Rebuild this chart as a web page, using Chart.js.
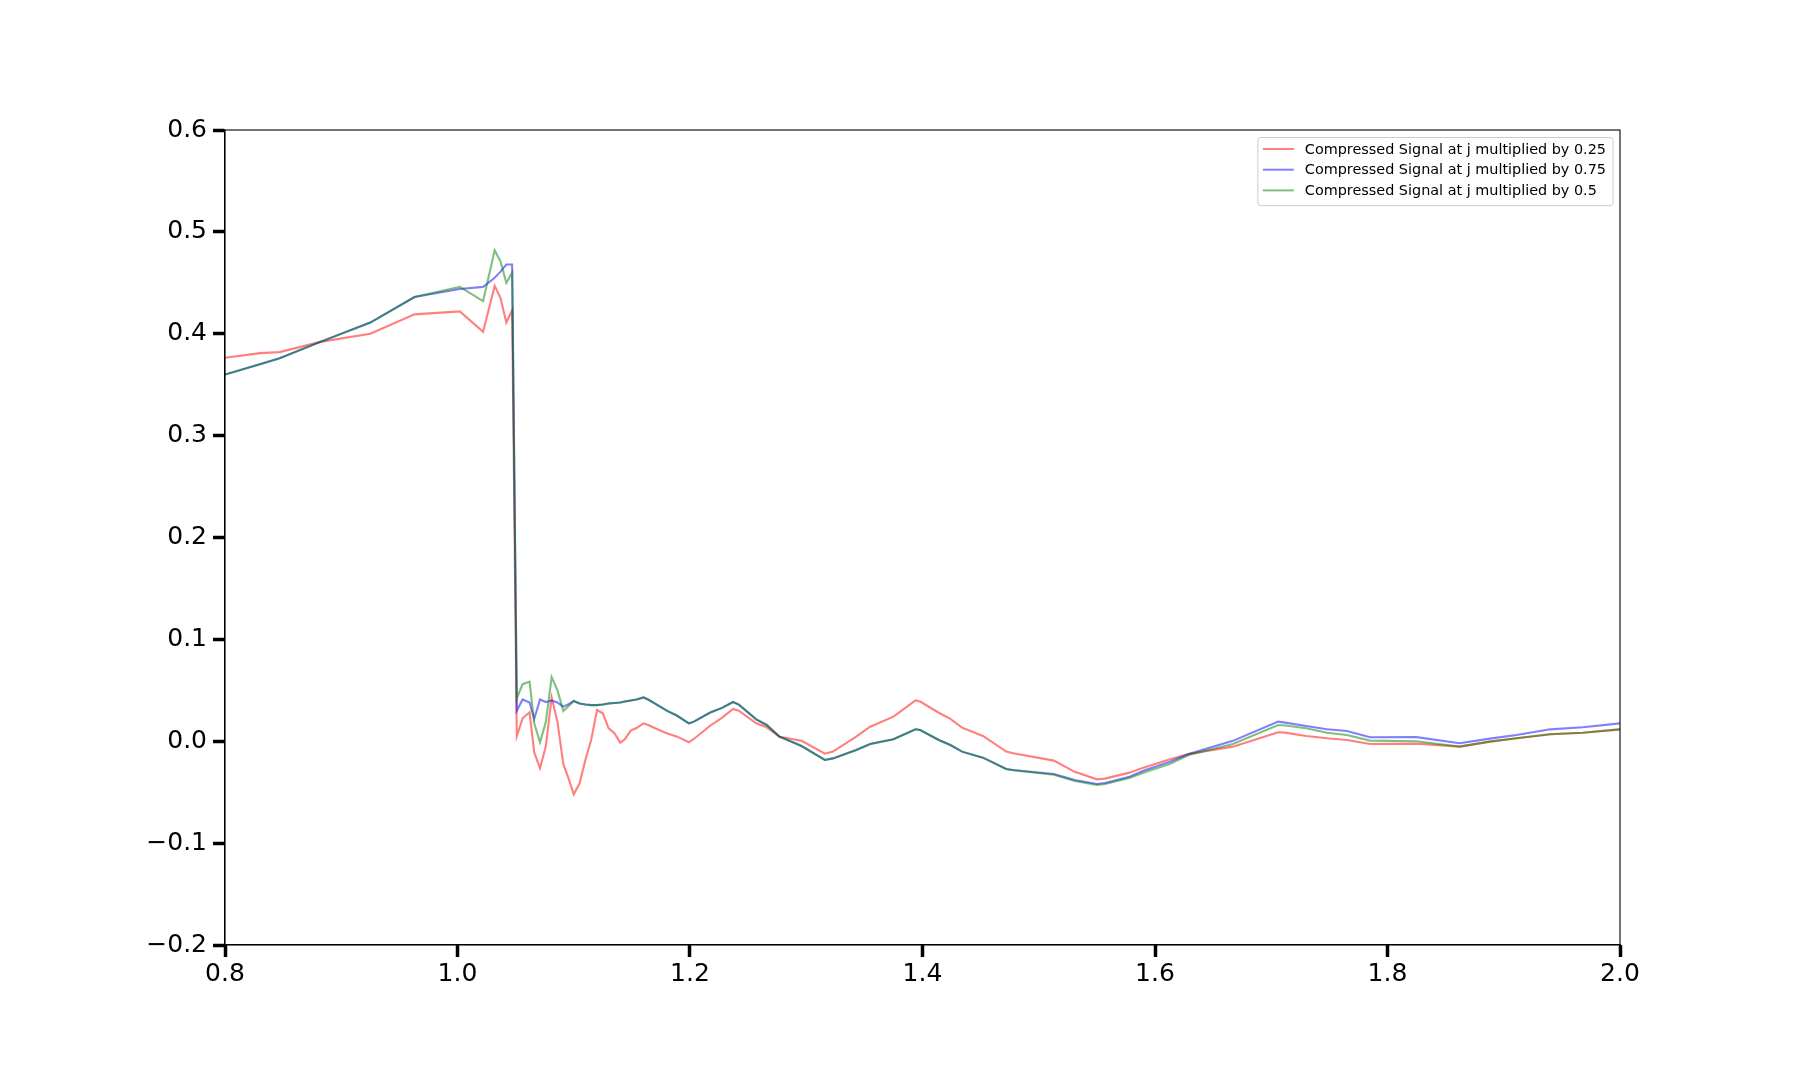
<!DOCTYPE html>
<html>
<head>
<meta charset="utf-8">
<script src="https://cdn.jsdelivr.net/npm/chart.js@4.4.1/dist/chart.umd.min.js"></script>
<style>
html,body{margin:0;padding:0;background:#fff;}
#wrap{width:1800px;height:1080px;}
</style>
</head>
<body>
<div id="wrap"><canvas id="c" width="1800" height="1080"></canvas></div>
<script>
const xs = [0.800,0.830,0.847,0.882,0.925,0.963,1.002,1.022,1.032,1.037,1.042,1.047,
  1.051,1.056,1.062,1.066,1.071,1.076,1.081,1.086,1.091,1.095,1.100,1.105,1.110,1.115,1.120,1.125,1.130,1.135,1.140,1.144,1.149,1.154,1.160,1.164,1.170,1.180,1.189,1.199,1.203,1.217,1.228,1.237,1.242,1.257,1.266,1.277,1.296,
  1.316,1.323,1.343,1.355,1.375,1.394,1.398,1.414,1.424,1.434,1.452,1.472,1.478,1.513,1.531,1.550,1.557,1.578,1.590,1.613,
  1.629,1.667,1.706,1.712,1.730,1.748,1.765,1.785,1.825,1.862,1.888,1.911,1.940,1.968,2.000];

const red = [0.3765,0.381,0.382,0.392,0.400,0.419,0.422,0.402,0.447,0.435,0.411,0.423,
  0.005,0.0225,0.0284,-0.011,-0.0266,-0.0047,0.043,0.019,-0.0223,-0.0348,-0.052,-0.0413,-0.0184,0.0012,0.0307,0.0274,0.0127,0.0078,-0.0014,0.0019,0.0104,0.013,0.0176,0.016,0.0127,0.0078,0.0045,-0.001,0.002,0.015,0.0235,0.0317,0.030,0.0176,0.0137,0.0045,0.0004,
  -0.0122,-0.0102,0.0045,0.0143,0.0241,0.040,0.039,0.028,0.022,0.0133,0.0052,-0.0102,-0.0118,-0.019,-0.030,-0.0374,-0.0367,-0.0308,-0.0259,-0.0177,
  -0.0125,-0.0053,0.0088,0.0085,0.0052,0.0029,0.0012,-0.0027,-0.0023,-0.0053,-0.0004,0.0029,0.0068,0.0084,0.0117];

const blue = [0.360,0.370,0.376,0.392,0.411,0.436,0.444,0.446,0.455,0.461,0.468,0.468,
  0.030,0.041,0.038,0.022,0.041,0.0385,0.040,0.038,0.034,0.036,0.0395,0.037,0.036,0.0355,0.0355,0.036,0.037,0.0375,0.038,0.039,0.040,0.041,0.043,0.041,0.037,0.030,0.025,0.0176,0.019,0.028,0.033,0.0385,0.036,0.0215,0.016,0.0045,-0.0047,
  -0.0184,-0.0168,-0.0086,-0.0027,0.0019,0.0117,0.011,0.0012,-0.0037,-0.0102,-0.0161,-0.0272,-0.0282,-0.0321,-0.038,-0.042,-0.041,-0.0348,-0.029,-0.020,
  -0.0125,0.0004,0.0193,0.0183,0.015,0.0117,0.010,0.0039,0.004,-0.002,0.0026,0.0062,0.0117,0.0137,0.0176];

const green = [0.360,0.370,0.376,0.392,0.411,0.436,0.446,0.432,0.482,0.471,0.450,0.460,
  0.042,0.056,0.0585,0.0176,-0.001,0.019,0.063,0.050,0.0297,0.034,0.0395,0.037,0.036,0.0355,0.0355,0.036,0.037,0.0375,0.038,0.039,0.040,0.041,0.043,0.041,0.037,0.030,0.025,0.0176,0.019,0.028,0.033,0.0385,0.036,0.0215,0.016,0.0045,-0.0047,
  -0.0184,-0.0168,-0.0086,-0.0027,0.0019,0.0117,0.011,0.0012,-0.0037,-0.0102,-0.0161,-0.0272,-0.0285,-0.0328,-0.039,-0.043,-0.042,-0.036,-0.031,-0.022,
  -0.0135,-0.0027,0.016,0.0155,0.0127,0.0084,0.0062,0.0006,0.0,-0.0053,-0.0004,0.0029,0.0068,0.0084,0.0117];

const seriesLabels = ["Compressed Signal at j multiplied by 0.25","Compressed Signal at j multiplied by 0.75","Compressed Signal at j multiplied by 0.5"];
const seriesColors = ["rgba(255,0,0,0.5)","rgba(0,0,255,0.5)","rgba(0,128,0,0.5)"];
const xTicks = [0.8,1.0,1.2,1.4,1.6,1.8,2.0];
const yTicks = [-0.2,-0.1,0.0,0.1,0.2,0.3,0.4,0.5,0.6];

const toPts = ys => xs.map((x,i)=>({x:x,y:ys[i]}));
const fmt = v => { const s = Number(v).toFixed(1); return s.replace('-', '\u2212'); };

const frameAndLegend = {
  id:'frameAndLegend',
  afterDraw(chart){
    const ctx = chart.ctx, a = chart.chartArea;
    ctx.save();
    ctx.strokeStyle = '#000';
    ctx.lineWidth = 1.1;
    ctx.strokeRect(a.left, a.top, a.right-a.left, a.bottom-a.top);
    // legend inside, upper right
    ctx.font = '14.4px "DejaVu Sans"';
    let maxW = 0;
    seriesLabels.forEach(t=>{maxW=Math.max(maxW, ctx.measureText(t).width);});
    const rowH = 20.7, padX = 5, handle = 31, gap = 11;
    const bw = padX + handle + gap + maxW + 7;
    const bh = rowH*3 + 6;
    const bx = a.right - 7 - bw, by = a.top + 7.5;
    ctx.fillStyle = 'rgba(255,255,255,0.8)';
    ctx.strokeStyle = '#cccccc';
    ctx.lineWidth = 1;
    ctx.beginPath();
    if (ctx.roundRect) ctx.roundRect(bx, by, bw, bh, 3); else ctx.rect(bx,by,bw,bh);
    ctx.fill(); ctx.stroke();
    ctx.textBaseline = 'middle';
    seriesLabels.forEach((t,i)=>{
      const cy = by + 11.5 + i*rowH;
      ctx.strokeStyle = seriesColors[i];
      ctx.lineWidth = 2;
      ctx.beginPath(); ctx.moveTo(bx+padX, cy); ctx.lineTo(bx+padX+handle, cy); ctx.stroke();
      ctx.fillStyle = '#000';
      ctx.fillText(t, bx+padX+handle+gap, cy+1);
    });
    ctx.restore();
  }
};

new Chart(document.getElementById('c'), {
  type:'line',
  data:{
    datasets:[red,blue,green].map((ys,i)=>({
      label:seriesLabels[i], data:toPts(ys), borderColor:seriesColors[i],
      backgroundColor:seriesColors[i], borderWidth:2.1, pointRadius:0, tension:0, fill:false,
      order:3-i
    }))
  },
  options:{
    responsive:false, animation:false, devicePixelRatio:1,
    layout:{padding:{left:0,top:130,right:180,bottom:0}},
    plugins:{legend:{display:false}, tooltip:{enabled:false}},
    scales:{
      x:{type:'linear', min:0.8, max:2.0,
        afterBuildTicks(s){ s.ticks = xTicks.map(v=>({value:v})); },
        afterFit(s){ s.height = 135; },
        grid:{drawOnChartArea:false, drawTicks:true, tickLength:12, tickWidth:3.5, tickColor:'#000'},
        border:{display:true, color:'#000', width:1.1},
        ticks:{color:'#000', font:{family:'DejaVu Sans', size:25}, padding:2, maxRotation:0, autoSkip:false, callback:fmt}
      },
      y:{type:'linear', min:-0.2, max:0.6,
        afterBuildTicks(s){ s.ticks = yTicks.map(v=>({value:v})); },
        afterFit(s){ s.width = 225; },
        grid:{drawOnChartArea:false, drawTicks:true, tickLength:12, tickWidth:3.5, tickColor:'#000'},
        border:{display:true, color:'#000', width:1.1},
        ticks:{color:'#000', font:{family:'DejaVu Sans', size:25}, padding:6, autoSkip:false, callback:fmt}
      }
    }
  },
  plugins:[frameAndLegend]
});
</script>
</body>
</html>
